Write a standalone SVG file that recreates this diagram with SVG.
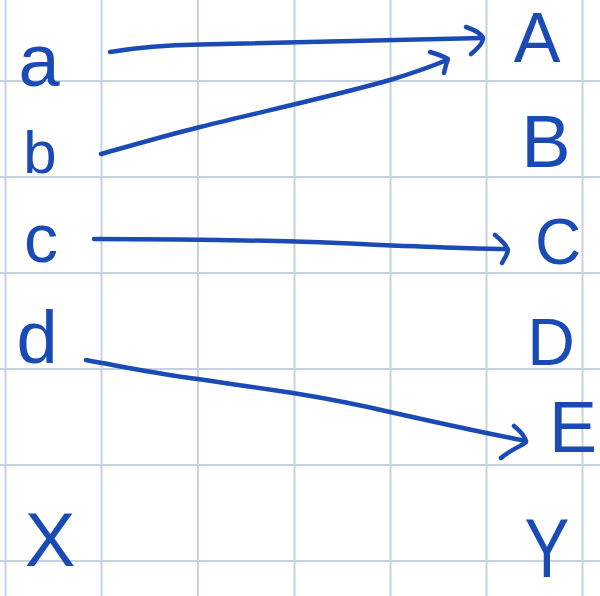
<svg xmlns="http://www.w3.org/2000/svg" width="600" height="596" viewBox="0 0 600 596">
<style>
.grid line{stroke:#c6d1e2;stroke-width:2}
.lbl{font-family:"Liberation Sans",Arial,sans-serif;fill:#1a4ab4;text-anchor:middle}
.conn path{fill:none;stroke:#1a4ab4;stroke-width:4.5;stroke-linecap:round;stroke-linejoin:round}
</style>
<rect width="600" height="596" fill="#ffffff"/>
<g class="grid">
<line x1="5.5" y1="0" x2="5.5" y2="596"/>
<line x1="101.5" y1="0" x2="101.5" y2="596"/>
<line x1="198" y1="0" x2="198" y2="596"/>
<line x1="294.5" y1="0" x2="294.5" y2="596"/>
<line x1="390.5" y1="0" x2="390.5" y2="596"/>
<line x1="486.5" y1="0" x2="486.5" y2="596"/>
<line x1="582.5" y1="0" x2="582.5" y2="596"/>
<line x1="0" y1="81" x2="600" y2="81"/>
<line x1="0" y1="177" x2="600" y2="177"/>
<line x1="0" y1="273" x2="600" y2="273"/>
<line x1="0" y1="369" x2="600" y2="369"/>
<line x1="0" y1="465" x2="600" y2="465"/>
<line x1="0" y1="561" x2="600" y2="561"/>
</g>
<g id="node-a"><text class="lbl" x="39" y="86" font-size="74">a</text></g>
<g id="node-b"><text class="lbl" x="40" y="173" font-size="60">b</text></g>
<g id="node-c"><text class="lbl" x="41" y="262" font-size="68">c</text></g>
<g id="node-d"><text class="lbl" x="37" y="363" font-size="74">d</text></g>
<g id="node-x"><text class="lbl" x="50" y="566" font-size="76">X</text></g>
<g id="node-A"><text class="lbl" x="537" y="62" font-size="70">A</text></g>
<g id="node-B"><text class="lbl" x="546" y="167" font-size="74">B</text></g>
<g id="node-C"><text class="lbl" x="558" y="264" font-size="64">C</text></g>
<g id="node-D"><text class="lbl" x="551" y="365" font-size="66">D</text></g>
<g id="node-E"><text class="lbl" x="573" y="452" font-size="72">E</text></g>
<g id="node-Y"><text class="lbl" transform="translate(547,577) scale(0.8,1)" x="0" y="0" font-size="84">Y</text></g>
<g class="conn" id="connectors">
<path d="M110,52 C140,47 170,45 200,44.5 C300,42 400,40 483,38"/>
<path d="M466,27 C475,30 482,34 483,39 C482,45 476,50 471,54"/>
<path d="M101,154 C130,146 160,137 200,127 C260,112 330,97 390,80 C410,74 430,67 447,60"/>
<path d="M430,52 C437,54 443,56 448,59 C446,64 445,69 444,73"/>
<path d="M94,239 C180,239 300,241 380,245 C430,247 480,249 507,249"/>
<path d="M495,235 C500,239 506,244 508,250 C507,256 504,259 502,263"/>
<path d="M86,360 C90,361 95,362 102,363 C140,370 170,376 198,379 C230,384 260,388 293,393 C330,399 360,405 390,412 C430,421 480,432 526,441"/>
<path d="M514,426 C519,430 525,435 526,442 C520,447 510,450 501,458"/>
</g>
</svg>
